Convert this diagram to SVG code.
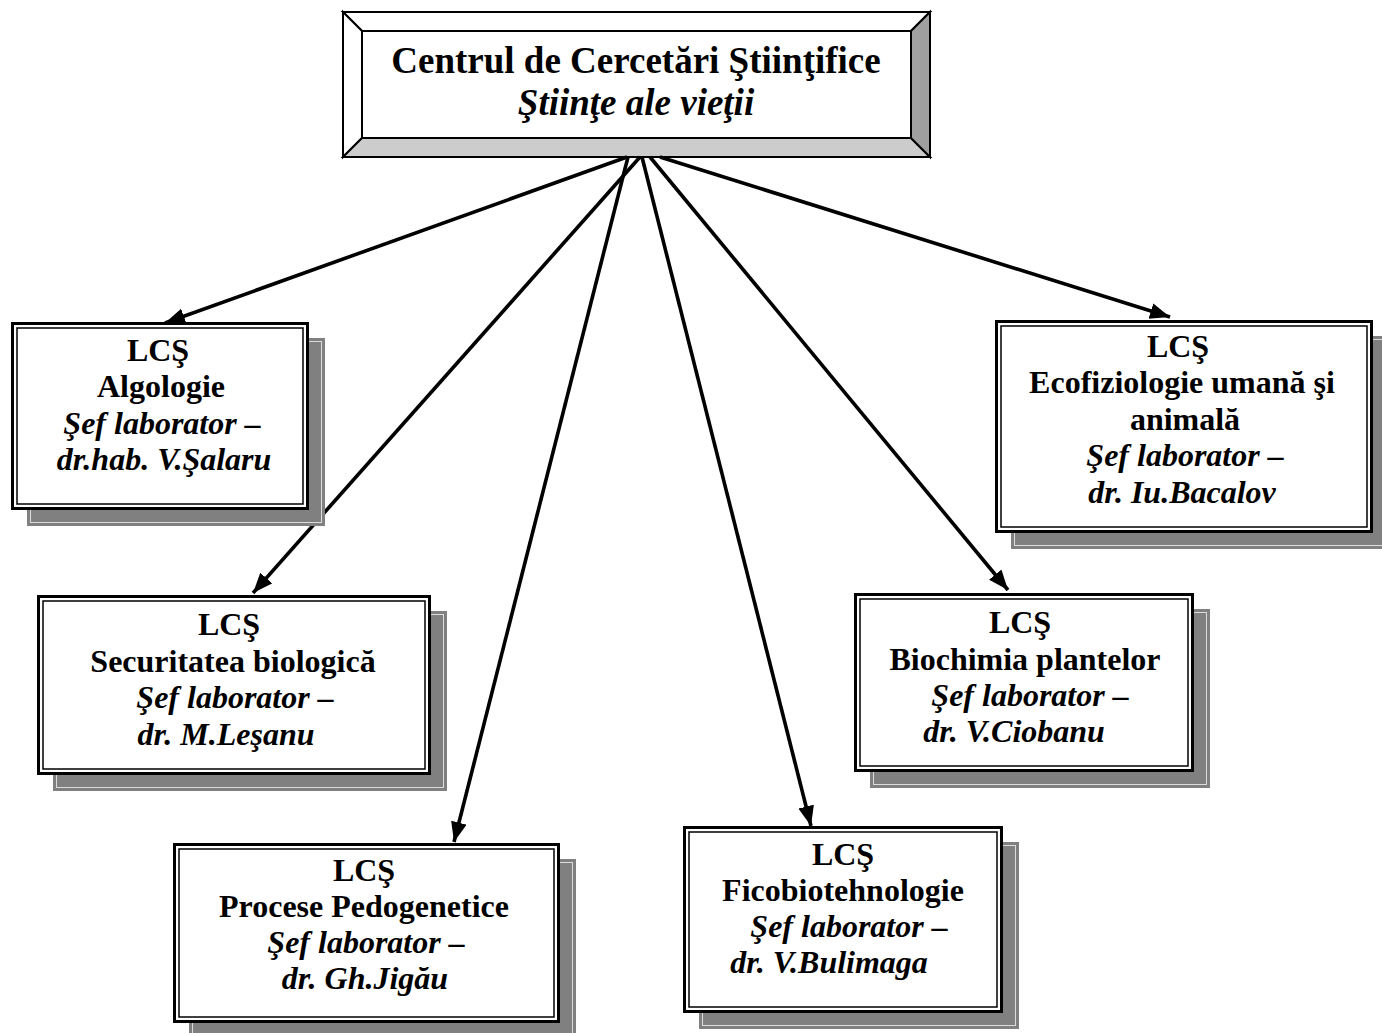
<svg xmlns="http://www.w3.org/2000/svg" width="1382" height="1033" viewBox="0 0 1382 1033">
<style>
text{font-family:"Liberation Serif","Times New Roman",serif;font-size:32px;text-anchor:middle;fill:#000}
.b{font-weight:bold}
.bi{font-weight:bold;font-style:italic}
.t{font-size:37px}
.sh{fill:#808080}
.shl{fill:none;stroke:#dcdcdc;stroke-width:1}
.o{fill:#fff;stroke:#000;stroke-width:3}
.i{fill:none;stroke:#000;stroke-width:1.5}
.bev{stroke:#000;stroke-width:2;stroke-linejoin:miter}
.ln{stroke:#000;stroke-width:3.6;fill:none;marker-end:url(#ah)}
</style>
<defs>
<marker id="ah" markerUnits="userSpaceOnUse" markerWidth="22" markerHeight="18" refX="20" refY="8" orient="auto">
<path d="M0,0 L20,8 L0,16 z" fill="#000"/>
</marker>
</defs>
<rect width="1382" height="1033" fill="#fff"/>

<g id="center">
<rect x="343" y="12" width="587" height="145" fill="#fff"/>
<polygon class="bev" points="343,12 930,12 911,31 362,31" fill="#fff"/>
<polygon class="bev" points="343,12 362,31 362,138 343,157" fill="#fff"/>
<polygon class="bev" points="343,157 362,138 911,138 930,157" fill="#cccccc"/>
<polygon class="bev" points="930,12 930,157 911,138 911,31" fill="#a0a0a0"/>
<rect x="362" y="31" width="549" height="107" fill="#fff" stroke="#000" stroke-width="2"/>
<text class="b t" x="636" y="73">Centrul de Cercetări Ştiinţifice</text>
<text class="bi t" x="636" y="115">Ştiinţe ale vieţii</text>
</g>

<g id="connectors">
<line class="ln" x1="627" y1="157" x2="165" y2="323"/>
<line class="ln" x1="640" y1="157" x2="253" y2="593"/>
<line class="ln" x1="628" y1="157" x2="454" y2="842"/>
<line class="ln" x1="642" y1="157" x2="811" y2="826"/>
<line class="ln" x1="650" y1="157" x2="1008" y2="590"/>
<line class="ln" x1="660" y1="157" x2="1170" y2="317"/>
</g>

<g id="algologie">
<rect class="sh" x="27" y="338" width="298" height="188"/>
<rect class="shl" x="30.5" y="341.5" width="291" height="181"/>
<rect class="o" x="12.5" y="323.5" width="295" height="185"/>
<rect class="i" x="17" y="328" width="286" height="176"/>
<text class="b" x="158" y="361">LCŞ</text>
<text class="b" x="161" y="397">Algologie</text>
<text class="bi" x="162" y="434">Şef laborator –</text>
<text class="bi" x="164" y="470">dr.hab. V.Şalaru</text>
</g>

<g id="securitatea">
<rect class="sh" x="53" y="611" width="394" height="180"/>
<rect class="shl" x="56.5" y="614.5" width="387" height="173"/>
<rect class="o" x="38.5" y="596.5" width="391" height="177"/>
<rect class="i" x="43" y="601" width="382" height="168"/>
<text class="b" x="229" y="635">LCŞ</text>
<text class="b" x="233" y="672">Securitatea biologică</text>
<text class="bi" x="235" y="708">Şef laborator –</text>
<text class="bi" x="226" y="745">dr. M.Leşanu</text>
</g>

<g id="procese">
<rect class="sh" x="189" y="859" width="387" height="180"/>
<rect class="shl" x="192.5" y="862.5" width="380" height="173"/>
<rect class="o" x="174.5" y="844.5" width="384" height="177"/>
<rect class="i" x="179" y="849" width="375" height="168"/>
<text class="b" x="364" y="881">LCŞ</text>
<text class="b" x="364" y="917">Procese Pedogenetice</text>
<text class="bi" x="366" y="953">Şef laborator –</text>
<text class="bi" x="365" y="989">dr. Gh.Jigău</text>
</g>

<g id="ficobiotehnologie">
<rect class="sh" x="699" y="842" width="320" height="187"/>
<rect class="shl" x="702.5" y="845.5" width="313" height="180"/>
<rect class="o" x="684.5" y="827.5" width="317" height="184"/>
<rect class="i" x="689" y="832" width="308" height="175"/>
<text class="b" x="843" y="865">LCŞ</text>
<text class="b" x="843" y="901">Ficobiotehnologie</text>
<text class="bi" x="849" y="937">Şef laborator –</text>
<text class="bi" x="829" y="973">dr. V.Bulimaga</text>
</g>

<g id="biochimia">
<rect class="sh" x="870" y="609" width="340" height="179"/>
<rect class="shl" x="873.5" y="612.5" width="333" height="172"/>
<rect class="o" x="855.5" y="594.5" width="337" height="176"/>
<rect class="i" x="860" y="599" width="328" height="167"/>
<text class="b" x="1020" y="633">LCŞ</text>
<text class="b" x="1025" y="670">Biochimia plantelor</text>
<text class="bi" x="1030" y="706">Şef laborator –</text>
<text class="bi" x="1014" y="742">dr. V.Ciobanu</text>
</g>

<g id="ecofiziologie">
<rect class="sh" x="1011" y="336" width="378" height="213"/>
<rect class="shl" x="1014.5" y="339.5" width="371" height="206"/>
<rect class="o" x="996.5" y="321.5" width="375" height="210"/>
<rect class="i" x="1001" y="326" width="366" height="201"/>
<text class="b" x="1178" y="357">LCŞ</text>
<text class="b" x="1182" y="393">Ecofiziologie umană şi</text>
<text class="b" x="1185" y="430">animală</text>
<text class="bi" x="1185" y="466">Şef laborator –</text>
<text class="bi" x="1182" y="503">dr. Iu.Bacalov</text>
</g>
</svg>
